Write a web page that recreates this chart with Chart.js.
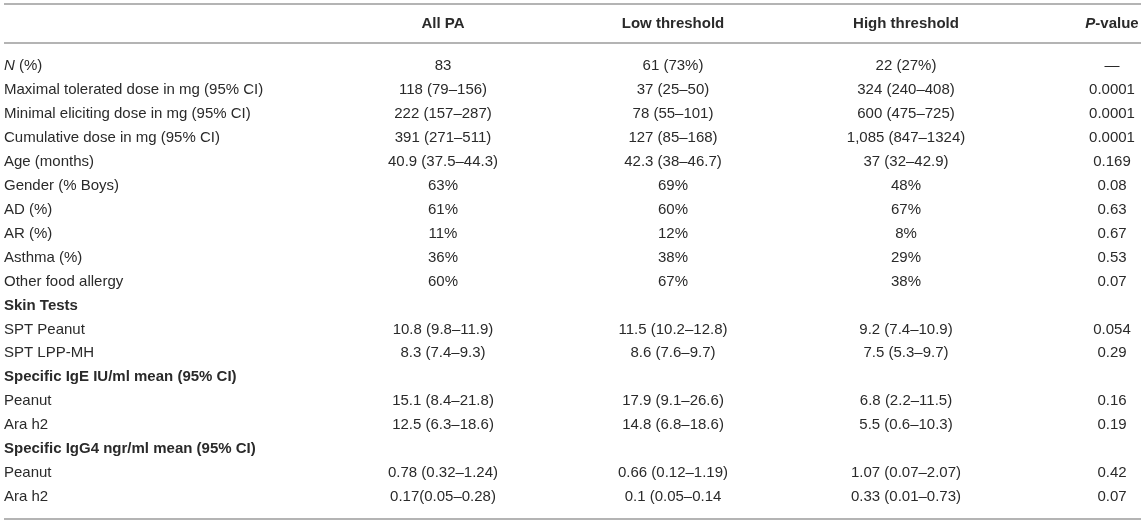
<!DOCTYPE html>
<html>
<head>
<meta charset="utf-8">
<script src="https://cdn.jsdelivr.net/npm/chart.js@4.4.1/dist/chart.umd.min.js"></script>
<style>
  html, body { margin: 0; padding: 0; background: #ffffff; }
  #wrap { width: 1145px; height: 524px; }
</style>
</head>
<body>
<div id="wrap"><canvas id="c" width="1145" height="524"></canvas></div>
<script>
// ---- data ----
const columnHeaders = ['', 'All PA', 'Low threshold', 'High threshold', 'P-value'];
const rowLabels = [
  'N (%)',
  'Maximal tolerated dose in mg (95% CI)',
  'Minimal eliciting dose in mg (95% CI)',
  'Cumulative dose in mg (95% CI)',
  'Age (months)',
  'Gender (% Boys)',
  'AD (%)',
  'AR (%)',
  'Asthma (%)',
  'Other food allergy',
  'Skin Tests',
  'SPT Peanut',
  'SPT LPP-MH',
  'Specific IgE IU/ml mean (95% CI)',
  'Peanut',
  'Ara h2',
  'Specific IgG4 ngr/ml mean (95% CI)',
  'Peanut',
  'Ara h2'
];
const sectionRows = ['Skin Tests', 'Specific IgE IU/ml mean (95% CI)', 'Specific IgG4 ngr/ml mean (95% CI)'];
const allPA = ['83', '118 (79–156)', '222 (157–287)', '391 (271–511)', '40.9 (37.5–44.3)', '63%', '61%', '11%', '36%', '60%',
  '', '10.8 (9.8–11.9)', '8.3 (7.4–9.3)', '', '15.1 (8.4–21.8)', '12.5 (6.3–18.6)', '', '0.78 (0.32–1.24)', '0.17(0.05–0.28)'];
const lowThreshold = ['61 (73%)', '37 (25–50)', '78 (55–101)', '127 (85–168)', '42.3 (38–46.7)', '69%', '60%', '12%', '38%', '67%',
  '', '11.5 (10.2–12.8)', '8.6 (7.6–9.7)', '', '17.9 (9.1–26.6)', '14.8 (6.8–18.6)', '', '0.66 (0.12–1.19)', '0.1 (0.05–0.14'];
const highThreshold = ['22 (27%)', '324 (240–408)', '600 (475–725)', '1,085 (847–1324)', '37 (32–42.9)', '48%', '67%', '8%', '29%', '38%',
  '', '9.2 (7.4–10.9)', '7.5 (5.3–9.7)', '', '6.8 (2.2–11.5)', '5.5 (0.6–10.3)', '', '1.07 (0.07–2.07)', '0.33 (0.01–0.73)'];
const pValues = ['—', '0.0001', '0.0001', '0.0001', '0.169', '0.08', '0.63', '0.67', '0.53', '0.07',
  '', '0.054', '0.29', '', '0.16', '0.19', '', '0.42', '0.07'];
const italicPrefixes = ['N', 'P'];   // leading italic letter in "N (%)" and "P-value"

// ---- layout / style ----
const colAnchor = [4, 443, 673, 906, 1112];
const colAlign = ['left', 'center', 'center', 'center', 'center'];
const FONT = '"Liberation Sans", Arial, Helvetica, sans-serif';
const FS = 15;
const TEXT = '#2a2a2a';
const RULE = '#b4b4b4';

function drawRich(ctx, text, x, y, align, bold) {
  const w = bold ? 'bold ' : '';
  let segs = [{t: text, it: false}];
  for (const p of italicPrefixes) {
    if ((text === 'N (%)' || text === 'P-value') && text.startsWith(p)) {
      segs = [{t: p, it: true}, {t: text.slice(p.length), it: false}];
    }
  }
  let total = 0;
  segs.forEach(s => {
    ctx.font = (s.it ? 'italic ' : '') + w + FS + 'px ' + FONT;
    s.w = ctx.measureText(s.t).width;
    total += s.w;
  });
  let cx = align === 'center' ? x - total / 2 : (align === 'right' ? x - total : x);
  ctx.textAlign = 'left';
  segs.forEach(s => {
    ctx.font = (s.it ? 'italic ' : '') + w + FS + 'px ' + FONT;
    ctx.fillText(s.t, cx, y);
    cx += s.w;
  });
}

const tablePlugin = {
  id: 'tablePlugin',
  afterDraw(chart) {
    const ctx = chart.ctx;
    const xs = chart.scales.x, ys = chart.scales.y;
    const area = chart.chartArea;
    const step = ys.getPixelForValue(1) - ys.getPixelForValue(0);
    const left = xs.getPixelForValue(4), right = xs.getPixelForValue(1141);
    ctx.save();
    // rules
    ctx.strokeStyle = RULE;
    ctx.lineWidth = 2;
    const ruleY = [area.top - 62, area.top - 23, area.bottom + 22];
    ruleY.forEach(y => {
      ctx.beginPath(); ctx.moveTo(left, y); ctx.lineTo(right, y); ctx.stroke();
    });
    ctx.fillStyle = TEXT;
    ctx.textBaseline = 'middle';
    // header
    const hy = area.top - 42;
    columnHeaders.forEach((h, j) => {
      if (h) drawRich(ctx, h, xs.getPixelForValue(colAnchor[j]), hy, colAlign[j], true);
    });
    // body
    const cols = [rowLabels, allPA, lowThreshold, highThreshold, pValues];
    rowLabels.forEach((lab, i) => {
      const y = ys.getPixelForValue(i);
      const bold = sectionRows.includes(lab);
      cols.forEach((col, j) => {
        const t = col[i];
        if (t) drawRich(ctx, t, xs.getPixelForValue(colAnchor[j]), y, colAlign[j], j === 0 && bold);
      });
    });
    ctx.restore();
  }
};

new Chart(document.getElementById('c'), {
  type: 'scatter',
  data: { labels: rowLabels, datasets: [] },
  options: {
    responsive: false,
    animation: false,
    devicePixelRatio: 1,
    layout: { padding: { top: 66, bottom: 27, left: 0, right: 0 } },
    plugins: { legend: { display: false }, tooltip: { enabled: false }, title: { display: false } },
    scales: {
      x: { type: 'linear', display: false, min: 0, max: 1145 },
      y: { type: 'category', display: false, labels: rowLabels, offset: false }
    }
  },
  plugins: [tablePlugin]
});
</script>
</body>
</html>
